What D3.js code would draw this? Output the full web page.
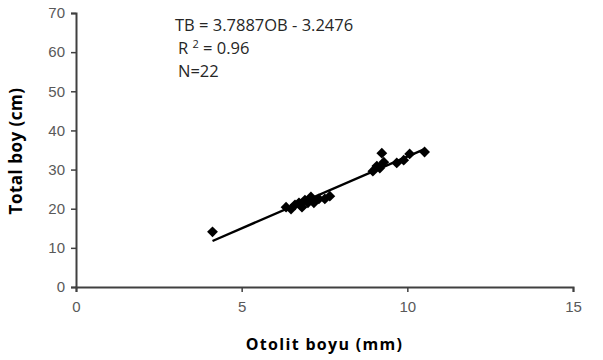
<!DOCTYPE html>
<html>
<head>
<meta charset="utf-8">
<script src="https://cdn.jsdelivr.net/npm/d3@7"></script>
<style>
  body { margin: 0; background: #fff; }
  svg { display: block; font-family: "Open Sans", "Liberation Sans", sans-serif; }
</style>
</head>
<body>
<div id="chart"></div>
<script>
// otolit boyu (mm)
const otolit = [4.12, 6.34, 6.49, 6.61, 6.73, 6.82, 6.91, 7.00, 7.09, 7.18, 7.33, 7.51, 7.66,
  8.96, 9.08, 9.17, 9.23, 9.29, 9.68, 9.89, 10.07, 10.52];
// total boy (cm)
const totalBoy = [14.1, 20.4, 19.9, 21.0, 21.5, 20.4, 22.2, 21.5, 23.0, 21.5, 22.5, 22.5, 23.2,
  29.6, 30.9, 30.4, 34.2, 31.9, 31.7, 32.4, 34.0, 34.5];
const xTicks = [0, 5, 10, 15];
const yTicks = [0, 10, 20, 30, 40, 50, 60, 70];
const notes = ['TB = 3.7887OB - 3.2476', 'R', 'N=22'];

const W = 603, H = 360;
const margin = { top: 13, right: 30, bottom: 73, left: 76 };
const width = W - margin.left - margin.right;
const height = H - margin.top - margin.bottom;

const svg = d3.select('#chart').append('svg')
  .attr('width', W)
  .attr('height', H);
const g = svg.append('g')
  .attr('transform', `translate(${margin.left},${margin.top})`);

const x = d3.scaleLinear().domain([0, 15]).range([0, width]);
const y = d3.scaleLinear().domain([0, 70]).range([height, 0]);

// eksenler
const xAxis = g.append('g')
  .attr('transform', `translate(0,${height})`)
  .call(d3.axisBottom(x).tickValues(xTicks).tickSize(5).tickPadding(9));
const yAxis = g.append('g')
  .call(d3.axisLeft(y).tickValues(yTicks).tickSize(5).tickPadding(6));
[xAxis, yAxis].forEach(a => {
  a.select('.domain').attr('stroke', '#404040').attr('stroke-width', 2);
  a.selectAll('.tick line').attr('stroke', '#404040').attr('stroke-width', 1.5);
  a.selectAll('.tick text').attr('fill', '#595959').style('font-size', '15px');
});

// regresyon cizgisi
const data = otolit.map((d, i) => [d, totalBoy[i]]);
const mx = d3.mean(otolit), my = d3.mean(totalBoy);
const slope = d3.sum(data, d => (d[0] - mx) * (d[1] - my)) / d3.sum(data, d => (d[0] - mx) ** 2);
const icpt = my - slope * mx;
const ext = d3.extent(otolit);
g.append('line')
  .attr('x1', x(ext[0])).attr('y1', y(slope * ext[0] + icpt))
  .attr('x2', x(ext[1])).attr('y2', y(slope * ext[1] + icpt))
  .attr('stroke', '#000')
  .attr('stroke-width', 2.4);

// noktalar
g.selectAll('.pt')
  .data(data)
  .enter()
  .append('path')
  .attr('class', 'pt')
  .attr('d', d3.symbol(d3.symbolDiamond2, 75))
  .attr('transform', d => `translate(${x(d[0])},${y(d[1])})`)
  .attr('fill', '#000');

// denklem
const ann = svg.append('g').attr('fill', '#262626').style('font-size', '16.5px');
ann.append('text').attr('x', 175).attr('y', 31).text(notes[0]);
const r2 = ann.append('text').attr('x', 178).attr('y', 54);
r2.append('tspan').text('R ');
r2.append('tspan').attr('dy', -6).style('font-size', '11px').text('2');
r2.append('tspan').attr('dy', 6).text(' = 0.96');
ann.append('text').attr('x', 178).attr('y', 77).text(notes[2]);

// eksen basliklari
svg.append('text')
  .attr('x', margin.left + width / 2)
  .attr('y', 350)
  .attr('text-anchor', 'middle')
  .style('font-size', '16px')
  .style('font-weight', 'bold')
  .style('letter-spacing', '1.3px')
  .attr('fill', '#000')
  .text('Otolit boyu (mm)');
svg.append('text')
  .attr('transform', 'rotate(-90)')
  .attr('x', -151)
  .attr('y', 22)
  .attr('text-anchor', 'middle')
  .style('font-size', '17px')
  .style('font-weight', 'bold')
  .style('letter-spacing', '0.5px')
  .attr('fill', '#000')
  .text('Total boy (cm)');
</script>
</body>
</html>
